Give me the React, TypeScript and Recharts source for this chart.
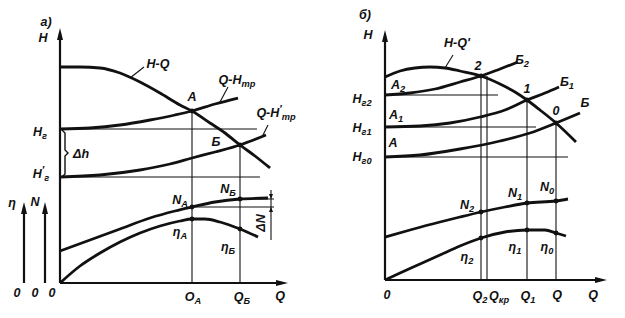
import React from 'react';
import { ComposedChart, Line, Scatter, XAxis, YAxis } from 'recharts';

type P = { q: number; h: number };
type Lbl = { q: number; h: number; t: string; sub?: string; sup?: string; rot?: number; size?: number };
type Arr = { q: number; h: number; dir: 'up' | 'down' | 'right'; len?: number; w?: number };

// ---------- Panel а) ----------
const aHQ: P[] = [
  { q: 0, h: 108 }, { q: 10, h: 108 }, { q: 20, h: 107.5 }, { q: 30, h: 105 }, { q: 40, h: 100.5 },
  { q: 50, h: 95 }, { q: 60, h: 89 }, { q: 66, h: 86 }, { q: 75, h: 80 }, { q: 82.5, h: 75 },
  { q: 90, h: 69 }, { q: 97.5, h: 63.5 }, { q: 105, h: 57.5 },
];
const aHtr: P[] = [
  { q: 0, h: 77 }, { q: 15, h: 77.5 }, { q: 30, h: 79 }, { q: 45, h: 81.5 }, { q: 57.5, h: 84 },
  { q: 66, h: 86 }, { q: 77.5, h: 89.5 }, { q: 89, h: 92.5 },
];
const aHtrPrime: P[] = [
  { q: 0, h: 53 }, { q: 20, h: 54 }, { q: 40, h: 56.5 }, { q: 55, h: 59.5 }, { q: 66, h: 62.5 },
  { q: 77.5, h: 65.5 }, { q: 90, h: 69 }, { q: 103, h: 74 },
];
const aN: P[] = [
  { q: 0, h: 16 }, { q: 15, h: 21.5 }, { q: 30, h: 27 }, { q: 45, h: 32.5 }, { q: 57.5, h: 36 },
  { q: 66, h: 38 }, { q: 77.5, h: 40.5 }, { q: 90, h: 42 }, { q: 104, h: 42.5 },
];
const aEta: P[] = [
  { q: 0, h: 0 }, { q: 10, h: 8.5 }, { q: 20, h: 15 }, { q: 30, h: 20.5 }, { q: 40, h: 25 },
  { q: 50, h: 28.5 }, { q: 60, h: 31 }, { q: 66, h: 32 }, { q: 72.5, h: 32 }, { q: 80, h: 30.5 },
  { q: 90, h: 27 }, { q: 99, h: 23 },
];
const aThin: P[][] = [
  [{ q: 0, h: 77 }, { q: 98.5, h: 77 }],
  [{ q: 0, h: 53 }, { q: 100, h: 53 }],
  [{ q: 66, h: 86 }, { q: 66, h: 0 }],
  [{ q: 90, h: 69 }, { q: 90, h: 0 }],
  [{ q: 90, h: 42 }, { q: 107, h: 42 }],
  [{ q: 66, h: 38 }, { q: 107, h: 38 }],
  [{ q: 105.5, h: 46.5 }, { q: 105.5, h: 21.5 }],
  [{ q: 35, h: 102.5 }, { q: 42, h: 108 }],
  [{ q: 80, h: 90.5 }, { q: 84, h: 98 }],
  [{ q: 101, h: 73 }, { q: 104, h: 79 }],
];
const aBrace: P[] = [
  { q: 1, h: 76.5 }, { q: 2.5, h: 75 }, { q: 2.5, h: 66.5 }, { q: 4, h: 65 },
  { q: 2.5, h: 63.5 }, { q: 2.5, h: 54.5 }, { q: 1, h: 53 },
];
const aAxes: P[][] = [
  [{ q: 0, h: 0 }, { q: 0, h: 125 }],
  [{ q: 0, h: 0 }, { q: 112, h: 0 }],
  [{ q: -18, h: 0 }, { q: -18, h: 38 }],
  [{ q: -7.5, h: 0 }, { q: -7.5, h: 38 }],
];
const aArrows: Arr[] = [
  { q: 0, h: 127.5, dir: 'up' },
  { q: 114, h: 0, dir: 'right' },
  { q: -18, h: 40.5, dir: 'up' },
  { q: -7.5, h: 40.5, dir: 'up' },
  { q: 105.5, h: 42, dir: 'down', len: 5, w: 2 },
  { q: 105.5, h: 38, dir: 'up', len: 5, w: 2 },
];
const aDots: P[] = [
  { q: 66, h: 86 }, { q: 90, h: 69 }, { q: 66, h: 38 }, { q: 90, h: 42 }, { q: 66, h: 32 }, { q: 90, h: 27 },
];
const aLabels: Lbl[] = [
  { q: -7, h: 130.5, t: 'а)' },
  { q: -8.5, h: 122.5, t: 'H' },
  { q: 49, h: 109.5, t: 'H-Q' },
  { q: 88.5, h: 101.5, t: 'Q-H', sub: 'тр' },
  { q: 108, h: 85, t: 'Q-H', sup: '′', sub: 'тр' },
  { q: 66, h: 93, t: 'A' },
  { q: 78, h: 70.5, t: 'Б' },
  { q: -10, h: 75.5, t: 'H', sub: 'г' },
  { q: 10.5, h: 64.5, t: 'Δh' },
  { q: -9.5, h: 54.5, t: 'H', sup: '′', sub: 'г' },
  { q: 60, h: 41.5, t: 'N', sub: 'A' },
  { q: 84, h: 47, t: 'N', sub: 'Б' },
  { q: 60, h: 25.5, t: 'η', sub: 'A' },
  { q: 84, h: 18, t: 'η', sub: 'Б' },
  { q: 100.5, h: 30, t: 'ΔN', rot: -90 },
  { q: -24, h: 40, t: 'η' },
  { q: -12.5, h: 40.5, t: 'N' },
  { q: -21.5, h: -5, t: '0' },
  { q: -12.5, h: -5, t: '0' },
  { q: -4, h: -5, t: '0' },
  { q: 66.5, h: -7, t: 'O', sub: 'A' },
  { q: 91, h: -7, t: 'Q', sub: 'Б' },
  { q: 110, h: -6.5, t: 'Q' },
];

// ---------- Panel б) ----------
const bHQ: P[] = [
  { q: 0, h: 101.5 }, { q: 7.5, h: 104.5 }, { q: 15, h: 106 }, { q: 22.5, h: 106.5 }, { q: 30, h: 106 },
  { q: 37.5, h: 104.5 }, { q: 48, h: 102 }, { q: 57.5, h: 98 }, { q: 65, h: 94 }, { q: 71, h: 90 },
  { q: 77.5, h: 85 }, { q: 85.5, h: 78.5 }, { q: 95.5, h: 69 },
];
const bB2: P[] = [
  { q: 0, h: 92.5 }, { q: 12.5, h: 93.5 }, { q: 25, h: 95.5 }, { q: 37.5, h: 99 }, { q: 48, h: 102 },
  { q: 57.5, h: 105.5 }, { q: 66.5, h: 109 },
];
const bB1: P[] = [
  { q: 0, h: 76.5 }, { q: 17.5, h: 77 }, { q: 32.5, h: 78.5 }, { q: 47.5, h: 81.5 }, { q: 60, h: 85 },
  { q: 71, h: 90 }, { q: 80, h: 93.5 }, { q: 87, h: 96.5 },
];
const bB0: P[] = [
  { q: 0, h: 61.5 }, { q: 17.5, h: 62.5 }, { q: 37.5, h: 65.5 }, { q: 57.5, h: 69.5 }, { q: 72.5, h: 73.5 },
  { q: 85.5, h: 78.5 }, { q: 97.5, h: 83.5 },
];
const bN: P[] = [
  { q: 0, h: 21.5 }, { q: 12.5, h: 25 }, { q: 27.5, h: 29 }, { q: 37.5, h: 31.5 }, { q: 48, h: 34 },
  { q: 60, h: 36.5 }, { q: 71, h: 38.5 }, { q: 85.5, h: 39.5 }, { q: 91.5, h: 40.5 },
];
const bEta: P[] = [
  { q: 0, h: 0 }, { q: 7.5, h: 3.5 }, { q: 17.5, h: 8 }, { q: 27.5, h: 12.5 }, { q: 37.5, h: 17 },
  { q: 48, h: 21 }, { q: 60, h: 24 }, { q: 71, h: 25 }, { q: 80, h: 25 }, { q: 85.5, h: 23.5 },
  { q: 90.5, h: 22 },
];
const bThin: P[][] = [
  [{ q: 0, h: 92.5 }, { q: 56.5, h: 92.5 }],
  [{ q: 0, h: 76.5 }, { q: 75.5, h: 76.5 }],
  [{ q: 0, h: 61.5 }, { q: 91.5, h: 61.5 }],
  [{ q: 48, h: 102 }, { q: 48, h: 0 }],
  [{ q: 51, h: 102 }, { q: 51, h: 0 }],
  [{ q: 71, h: 90 }, { q: 71, h: 0 }],
  [{ q: 85.5, h: 78.5 }, { q: 85.5, h: 0 }],
  [{ q: 30, h: 106 }, { q: 34, h: 112.5 }],
];
const bAxes: P[][] = [
  [{ q: 0, h: 0 }, { q: 0, h: 122 }],
  [{ q: 0, h: 0 }, { q: 109, h: 0 }],
];
const bArrows: Arr[] = [
  { q: 0, h: 125, dir: 'up' },
  { q: 111, h: 0, dir: 'right' },
];
const bDots: P[] = [
  { q: 48, h: 102 }, { q: 71, h: 90 }, { q: 85.5, h: 78.5 },
  { q: 48, h: 34 }, { q: 71, h: 38.5 }, { q: 85.5, h: 39.5 },
  { q: 48, h: 21 }, { q: 71, h: 25 }, { q: 85.5, h: 23.5 },
];
const bLabels: Lbl[] = [
  { q: -10, h: 132.5, t: 'б)' },
  { q: -8.5, h: 122.5, t: 'H' },
  { q: 36, h: 118.5, t: "H-Q'" },
  { q: 46.5, h: 107, t: '2' },
  { q: 71, h: 95.5, t: '1' },
  { q: 85.5, h: 84.5, t: '0' },
  { q: 68.5, h: 110, t: 'Б', sub: '2' },
  { q: 91, h: 99, t: 'Б', sub: '1' },
  { q: 100, h: 88.5, t: 'Б' },
  { q: 6.5, h: 97.5, t: 'A', sub: '2' },
  { q: 5.5, h: 82.5, t: 'A', sub: '1' },
  { q: 4, h: 68.5, t: 'A' },
  { q: -11.5, h: 90.5, t: 'H', sub: 'г2' },
  { q: -11.5, h: 76, t: 'H', sub: 'г1' },
  { q: -11.5, h: 61.5, t: 'H', sub: 'г0' },
  { q: 41, h: 37.5, t: 'N', sub: '2' },
  { q: 65, h: 43.5, t: 'N', sub: '1' },
  { q: 81, h: 46.5, t: 'N', sub: '0' },
  { q: 41, h: 11.5, t: 'η', sub: '2' },
  { q: 65, h: 16.5, t: 'η', sub: '1' },
  { q: 81, h: 16.5, t: 'η', sub: '0' },
  { q: 1, h: -7.5, t: '0' },
  { q: 47.5, h: -8, t: 'Q', sub: '2' },
  { q: 57, h: -8, t: 'Q', sub: 'кр' },
  { q: 71.5, h: -8, t: 'Q', sub: '1' },
  { q: 86, h: -7.5, t: 'Q' },
  { q: 104, h: -7.5, t: 'Q' },
];

const INK = '#111';
const FONT = '"Liberation Sans", Arial, sans-serif';

const renderLabel = (props: any) => {
  const { cx, cy, payload } = props;
  const fs = payload.size ?? 12.5;
  const sfs = fs * 0.74;
  return (
    <text
      x={cx}
      y={cy}
      textAnchor="middle"
      dominantBaseline="central"
      fontFamily={FONT}
      fontStyle="italic"
      fontWeight="bold"
      fontSize={fs}
      fill={INK}
      transform={payload.rot ? `rotate(${payload.rot} ${cx} ${cy})` : undefined}
    >
      {payload.t}
      {payload.sup ? (
        <tspan fontSize={fs * 0.8} dy={-4}>
          {payload.sup}
        </tspan>
      ) : null}
      {payload.sub ? (
        <tspan fontSize={sfs} dy={payload.sup ? 8 : 4}>
          {payload.sub}
        </tspan>
      ) : null}
    </text>
  );
};

const renderArrow = (props: any) => {
  const { cx, cy, payload } = props;
  const L = payload.len ?? 12;
  const W = payload.w ?? 3;
  let pts = '';
  if (payload.dir === 'up') pts = `${cx},${cy} ${cx - W},${cy + L} ${cx + W},${cy + L}`;
  else if (payload.dir === 'down') pts = `${cx},${cy} ${cx - W},${cy - L} ${cx + W},${cy - L}`;
  else pts = `${cx},${cy} ${cx - L},${cy - W} ${cx - L},${cy + W}`;
  return <polygon points={pts} fill={INK} />;
};

const renderDot = (props: any) => {
  const { cx, cy } = props;
  return <circle cx={cx} cy={cy} r={2.4} fill={INK} />;
};

type PanelProps = {
  width: number;
  xDomain: [number, number];
  yDomain: [number, number];
  curves: P[][];
  thin: P[][];
  axes: P[][];
  extra?: P[][];
  arrows: Arr[];
  dots: P[];
  labels: Lbl[];
};

const Panel = ({ width, xDomain, yDomain, curves, thin, axes, extra, arrows, dots, labels }: PanelProps) => (
  <ComposedChart width={width} height={318} margin={{ top: 0, right: 0, bottom: 0, left: 0 }}>
    <XAxis type="number" dataKey="q" domain={xDomain} allowDataOverflow hide />
    <YAxis type="number" dataKey="h" domain={yDomain} allowDataOverflow hide width={0} />
    {thin.map((d, i) => (
      <Line key={`t${i}`} data={d} dataKey="h" type="linear" stroke={INK} strokeWidth={1.1} dot={false} activeDot={false} isAnimationActive={false} />
    ))}
    {(extra ?? []).map((d, i) => (
      <Line key={`e${i}`} data={d} dataKey="h" type="linear" stroke={INK} strokeWidth={1.4} dot={false} activeDot={false} isAnimationActive={false} />
    ))}
    {axes.map((d, i) => (
      <Line key={`a${i}`} data={d} dataKey="h" type="linear" stroke={INK} strokeWidth={2.2} dot={false} activeDot={false} isAnimationActive={false} />
    ))}
    {curves.map((d, i) => (
      <Line key={`c${i}`} data={d} dataKey="h" type="monotone" stroke={INK} strokeWidth={2.8} dot={false} activeDot={false} isAnimationActive={false} />
    ))}
    <Scatter data={arrows} dataKey="h" shape={renderArrow} isAnimationActive={false} />
    <Scatter data={dots} dataKey="h" shape={renderDot} isAnimationActive={false} />
    <Scatter data={labels} dataKey="h" shape={renderLabel} isAnimationActive={false} />
  </ComposedChart>
);

export default function App() {
  return (
    <div style={{ position: 'absolute', left: 0, top: 0, width: 625, height: 318, background: '#fff', display: 'flex' }}>
      <Panel
        width={312}
        xDomain={[-30, 126]}
        yDomain={[-17.5, 141.5]}
        curves={[aHQ, aHtr, aHtrPrime, aN, aEta]}
        thin={aThin}
        axes={aAxes}
        extra={[aBrace]}
        arrows={aArrows}
        dots={aDots}
        labels={aLabels}
      />
      <Panel
        width={313}
        xDomain={[-36.5, 120]}
        yDomain={[-19, 140]}
        curves={[bHQ, bB2, bB1, bB0, bN, bEta]}
        thin={bThin}
        axes={bAxes}
        arrows={bArrows}
        dots={bDots}
        labels={bLabels}
      />
    </div>
  );
}
